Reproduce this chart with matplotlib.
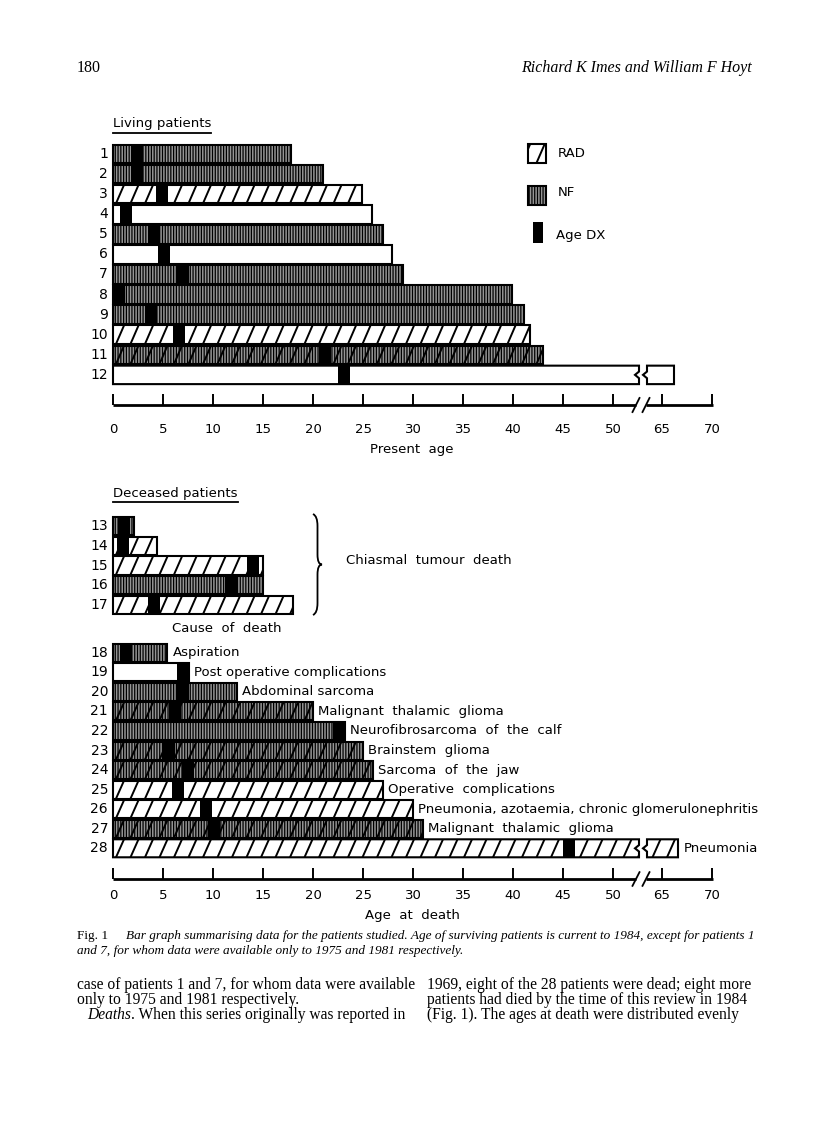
"""
Fig. 1 - bar graph of living and deceased patients (Imes & Hoyt, p.180).
Rebuilt as a page facsimile; output: out.png (816 x 1133).
"""
import numpy as np
import matplotlib.pyplot as plt
from matplotlib.patches import Polygon, Rectangle, PathPatch
from matplotlib.path import Path
from matplotlib.collections import LineCollection
from matplotlib.lines import Line2D

W, H = 816, 1133
SANS = "DejaVu Sans"
SERIF = "Liberation Serif"
plt.rcParams["hatch.linewidth"] = 0.9

# ── Data ──────────────────────────────────────────────────────────────────────
# kind: RAD = radiotherapy, NF = neurofibromatosis, RADNF = both, none = neither
living_id = list(range(1, 13))
living_kind = ["NF", "NF", "RAD", "none", "NF", "none",
               "NF", "NF", "NF", "RAD", "RADNF", "none"]
living_age = [17.8, 21.0, 24.9, 25.9, 27.0, 27.9, 29.0, 39.9, 41.1, 41.7, 43.0, 66.2]
living_dx = [1.8, 1.8, 4.3, 0.7, 3.5, 4.5, 6.4, 0.0, 3.2, 6.0, 20.6, 22.5]

tumour_id = [13, 14, 15, 16, 17]
tumour_kind = ["NF", "RAD", "RAD", "NF", "RAD"]
tumour_age = [2.1, 4.4, 15.0, 15.0, 18.0]
tumour_dx = [0.5, 0.4, 13.4, 11.2, 3.5]

other_id = list(range(18, 29))
other_kind = ["NF", "none", "NF", "RADNF", "NF", "RADNF",
              "RADNF", "RAD", "RAD", "RADNF", "RAD"]
other_age = [5.4, 7.6, 12.4, 20.0, 23.2, 25.0, 26.0, 27.0, 30.0, 31.0, 66.6]
other_dx = [0.7, 6.4, 6.4, 5.6, 22.0, 5.0, 6.9, 5.9, 8.7, 9.5, 45.0]
other_cause = ["Aspiration", "Post operative complications", "Abdominal sarcoma",
               "Malignant  thalamic  glioma", "Neurofibrosarcoma  of  the  calf",
               "Brainstem  glioma", "Sarcoma  of  the  jaw", "Operative  complications",
               "Pneumonia, azotaemia, chronic glomerulonephritis",
               "Malignant  thalamic  glioma", "Pneumonia"]

tick_ages = [0, 5, 10, 15, 20, 25, 30, 35, 40, 45, 50, 65, 70]

# ── Axis with a break between 52 and 65 ──────────────────────────────────────
BREAK_AT, BREAK_GAP = 52.6, 0.8
DX_WIDTH = 1.2
BAR_H = 0.92
SLASH_STEP, SLASH_SLANT = 1.45, 0.8
NF_FACE = "#959595"


def scale(age):
    return age if age < 55 else 54.9 + (age - 65)


fig = plt.figure(figsize=(W / 100, H / 100), dpi=100)
renderer = fig.canvas.get_renderer()


def add_axes_px(x0, y0, x1, y1):
    ax = fig.add_axes([x0 / W, 1 - y1 / H, (x1 - x0) / W, (y1 - y0) / H])
    ax.set_xlim(0, 60)
    for s in ax.spines.values():
        s.set_visible(False)
    ax.set_yticks([])
    ax.patch.set_alpha(0)
    return ax


def outline(x0, x1, yc, h, notch_left=False, notch_right=False):
    top, bot = yc - h / 2, yc + h / 2
    v = [(x0, top), (x1, top)]
    if notch_right:
        v += [(x1, yc - 0.18 * h), (x1 - 0.4, yc), (x1, yc + 0.18 * h)]
    v += [(x1, bot), (x0, bot)]
    if notch_left:
        v += [(x0, yc + 0.18 * h), (x0 - 0.4, yc), (x0, yc - 0.18 * h)]
    return v


def draw_piece(ax, x0, x1, yc, h, kind, dx=None, nl=False, nr=False):
    verts = outline(x0, x1, yc, h, nl, nr)
    nf = "NF" in kind
    fill = Polygon(verts, closed=True, facecolor=NF_FACE if nf else "white",
                   edgecolor="black", lw=0, hatch="||||||" if nf else None,
                   zorder=1, clip_on=False)
    ax.add_patch(fill)
    if "RAD" in kind:
        s0 = np.floor((x0 - SLASH_SLANT) / SLASH_STEP) * SLASH_STEP + 0.3
        segs = [[(s, yc + h / 2), (s + SLASH_SLANT * h / BAR_H, yc - h / 2)]
                for s in np.arange(s0, x1, SLASH_STEP)]
        lc = LineCollection(segs, colors="black", linewidths=1.4, zorder=2)
        ax.add_collection(lc)
        lc.set_clip_path(fill)
    if dx is not None and x0 - 0.01 <= dx <= x1:
        blk = Rectangle((dx, yc - h / 2), DX_WIDTH, h, facecolor="black",
                        edgecolor="none", zorder=3)
        ax.add_patch(blk)
        blk.set_clip_path(fill)
    ax.add_patch(Polygon(verts, closed=True, facecolor="none", edgecolor="black",
                         lw=1.5, zorder=4, clip_on=False, joinstyle="miter"))


def draw_bar(ax, row, age, dx, kind):
    end = scale(age)
    d = scale(dx)
    if age > 55:
        draw_piece(ax, 0, BREAK_AT, row, BAR_H, kind, d, nr=True)
        draw_piece(ax, BREAK_AT + BREAK_GAP, end, row, BAR_H, kind, d, nl=True)
    else:
        draw_piece(ax, 0, end, row, BAR_H, kind, d)
    ax.text(-0.5, row, str(row), ha="right", va="center", fontsize=10,
            family=SANS)
    return end


def draw_axis(ax, yb, pad):
    ax.set_xticks([scale(a) for a in tick_ages], [str(a) for a in tick_ages])
    ax.tick_params(axis="x", direction="in", length=8, width=1.4, pad=pad,
                   labelsize=9.5)
    kw = dict(color="black", lw=2.0, clip_on=False, solid_capstyle="butt")
    ax.plot([0, 52.3], [yb, yb], **kw)
    ax.plot([53.3, 60], [yb, yb], **kw)
    for xc in (52.3, 53.3):
        ax.plot([xc - 0.35, xc + 0.35], [yb + 0.35, yb - 0.35], color="black",
                lw=1.3, clip_on=False)


def ftext(x, y, s, **kw):
    kw.setdefault("family", SANS)
    kw.setdefault("fontsize", 9.5)
    kw.setdefault("va", "center")
    return fig.text(x / W, 1 - y / H, s, **kw)


def underline(t):
    bb = t.get_window_extent(renderer)
    fig.add_artist(Line2D([bb.x0 / W, bb.x1 / W],
                          [(bb.y0 - 2) / H, (bb.y0 - 2) / H],
                          color="black", lw=1.3))


# ── Living patients ───────────────────────────────────────────────────────────
ax_top = add_axes_px(113, 144, 713, 405)
ax_top.set_ylim(13.5, 0.5)
for i, a, d, k in zip(living_id, living_age, living_dx, living_kind):
    draw_bar(ax_top, i, a, d, k)
draw_axis(ax_top, 13.5, 13)

underline(ftext(113, 124, "Living patients"))
ftext(412, 449, "Present  age", ha="center")

# legend
draw_piece(ax_top, 41.5, 43.3, 0.97, 0.95, "RAD")
draw_piece(ax_top, 41.5, 43.3, 3.05, 0.95, "NF")
ax_top.add_patch(Rectangle((42.0, 4.4), 1.0, 1.05, facecolor="black",
                           clip_on=False))
ftext(558, 153, "RAD")
ftext(558, 193, "NF")
ftext(556, 235, "Age DX")

# ── Deceased: chiasmal tumour deaths ─────────────────────────────────────────
ax_mid = add_axes_px(113, 516, 713, 615)
ax_mid.set_ylim(17.5, 12.5)
ax_mid.set_xticks([])
for i, a, d, k in zip(tumour_id, tumour_age, tumour_dx, tumour_kind):
    draw_bar(ax_mid, i, a, d, k)

underline(ftext(113, 494, "Deceased patients"))
ftext(227, 629, "Cause  of  death", ha="center")

# curly brace spanning rows 13-17
bx, bw = 20.0, 0.9
yt, yb = 12.4, 17.5
ym = (yt + yb) / 2
brace = Path([(bx, yt), (bx + bw / 2, yt + 0.1), (bx + bw / 2, yt + 0.6),
              (bx + bw / 2, ym - 0.5), (bx + bw / 2, ym), (bx + bw, ym),
              (bx + bw / 2, ym), (bx + bw / 2, ym + 0.5),
              (bx + bw / 2, yb - 0.6), (bx + bw / 2, yb - 0.1), (bx, yb)],
             [Path.MOVETO, Path.CURVE3, Path.CURVE3, Path.LINETO, Path.CURVE3,
              Path.CURVE3, Path.CURVE3, Path.CURVE3, Path.LINETO, Path.CURVE3,
              Path.CURVE3])
ax_mid.add_patch(PathPatch(brace, facecolor="none", edgecolor="black", lw=1.3,
                           clip_on=False))
ftext(346, 561, "Chiasmal  tumour  death")

# ── Deceased: other causes ───────────────────────────────────────────────────
ax_bot = add_axes_px(113, 643, 713, 879)
ax_bot.set_ylim(29.57, 17.5)
for i, a, d, k, c in zip(other_id, other_age, other_dx, other_kind, other_cause):
    end = draw_bar(ax_bot, i, a, d, k)
    ax_bot.text(end + 0.55, i, c, ha="left", va="center", fontsize=9.5,
                family=SANS)
draw_axis(ax_bot, 29.57, 7)
ftext(412, 915, "Age  at  death", ha="center")

# ── Page furniture ────────────────────────────────────────────────────────────
ftext(77, 68, "180", family=SERIF, fontsize=11.5)
ftext(752, 68, "Richard K Imes and William F Hoyt", family=SERIF, fontsize=11.5,
      style="italic", ha="right")
ftext(77, 936, "Fig. 1", family=SERIF, fontsize=9.5)
ftext(126, 936, "Bar graph summarising data for the patients studied. Age of "
      "surviving patients is current to 1984, except for patients 1",
      family=SERIF, fontsize=9.5, style="italic")
ftext(77, 951, "and 7, for whom data were available only to 1975 and 1981 "
      "respectively.", family=SERIF, fontsize=9.5, style="italic")

body = dict(family=SERIF, fontsize=11.2)
ftext(77, 985, "case of patients 1 and 7, for whom data were available", **body)
ftext(77, 1000, "only to 1975 and 1981 respectively.", **body)
t = ftext(87, 1015, "Deaths", style="italic", **body)
x_next = 87 + t.get_window_extent(renderer).width
ftext(x_next, 1015, ". When this series originally was reported in", **body)
ftext(427, 985, "1969, eight of the 28 patients were dead; eight more", **body)
ftext(427, 1000, "patients had died by the time of this review in 1984", **body)
ftext(427, 1015, "(Fig. 1). The ages at death were distributed evenly", **body)

fig.savefig("out.png", dpi=100)
